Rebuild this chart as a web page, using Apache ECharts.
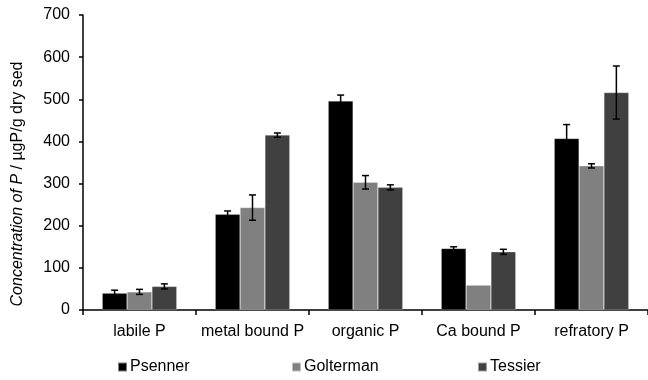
<!DOCTYPE html>
<html><head><meta charset="utf-8">
<script src="https://cdn.jsdelivr.net/npm/echarts@6/dist/echarts.min.js"></script>
<style>html,body{margin:0;padding:0;background:#fff}#c{width:648px;height:380px}</style>
</head><body><div id="c"></div>
<script>
const categories = ['labile P', 'metal bound P', 'organic P', 'Ca bound P', 'refratory P'];
const seriesNames = ['Psenner', 'Golterman', 'Tessier'];
const psenner = [40, 227, 496, 146, 407];
const golterman = [43, 243, 303, 59, 342];
const tessier = [56, 415, 291, 138, 516];
const psennerErr = [7, 8, 14, 4, 33];
const goltermanErr = [6, 30, 16, 0, 5];
const tessierErr = [6, 5, 6, 6, 63];
const yMin = 0, yMax = 700, yStep = 100;
const yTitleItalic = 'Concentration of P';
const yTitleRest = ' / µgP/g dry sed';

const colors = ['#000000', '#808080', '#404040'];
const FONT = '"Liberation Sans", Arial, sans-serif';
const GAP = 0.34;

const values = [psenner, golterman, tessier];
const errs = [psennerErr, goltermanErr, tessierErr];

const chart = echarts.init(document.getElementById('c'), null, {renderer: 'canvas'});

function barSeries(i) {
  return {
    type: 'bar', name: seriesNames[i], data: values[i],
    barGap: '0%', barCategoryGap: (GAP * 100) + '%',
    itemStyle: {color: colors[i], borderColor: 'rgba(255,255,255,0.5)', borderWidth: 0.5},
    emphasis: {disabled: true}, z: 2
  };
}
function errSeries(i) {
  return {
    type: 'custom', name: 'err' + i,
    data: categories.map((c, k) => [k, values[i][k], errs[i][k]]),
    encode: {x: 0, y: 1}, z: 5, silent: true,
    renderItem: function (params, api) {
      const cat = api.value(0), v = api.value(1), e = api.value(2);
      if (!e) return null;
      const band = api.size([1, 0])[0];
      const bw = band * (1 - GAP) / 3;
      const off = (i - 1) * bw;
      const top = api.coord([cat, v + e]);
      const bot = api.coord([cat, v - e]);
      const x = top[0] + off;
      const cw = 3.5;
      const st = {stroke: '#000', lineWidth: 1.5};
      return {type: 'group', children: [
        {type: 'line', shape: {x1: x, y1: top[1], x2: x, y2: bot[1]}, style: st},
        {type: 'line', shape: {x1: x - cw, y1: top[1], x2: x + cw, y2: top[1]}, style: st},
        {type: 'line', shape: {x1: x - cw, y1: bot[1], x2: x + cw, y2: bot[1]}, style: st}
      ]};
    }
  };
}

const legendLefts = [117, 291, 477];
const option = {
  animation: false,
  backgroundColor: '#fff',
  textStyle: {fontFamily: FONT},
  grid: {left: 83, top: 15, width: 567, height: 295, containLabel: false},
  xAxis: {
    type: 'category', data: categories,
    axisLine: {show: true, lineStyle: {color: '#000', width: 1.5}},
    axisTick: {show: true, inside: false, length: 5, alignWithLabel: false, lineStyle: {color: '#000', width: 1.5}},
    axisLabel: {color: '#000', fontSize: 16, margin: 14, fontFamily: FONT, interval: 0},
    splitLine: {show: false}
  },
  yAxis: {
    type: 'value', min: yMin, max: yMax, interval: yStep,
    axisLine: {show: true, lineStyle: {color: '#000', width: 1.5}},
    axisTick: {show: true, inside: false, length: 4, lineStyle: {color: '#000', width: 1.5}},
    axisLabel: {color: '#000', fontSize: 16, margin: 13, fontFamily: FONT},
    splitLine: {show: false}
  },
  legend: seriesNames.map((n, i) => ({
    data: [n], left: legendLefts[i], top: 359,
    icon: 'rect', itemWidth: 9, itemHeight: 9, itemGap: 3,
    padding: 0,
    textStyle: {color: '#000', fontSize: 16, fontFamily: FONT, padding: [0, 0, 0, -2]},
    selectedMode: false
  })),
  graphic: [{
    type: 'text', x: 18, y: 184, rotation: Math.PI / 2,
    style: {
      text: '{i|' + yTitleItalic + '}{n|' + yTitleRest + '}',
      align: 'center', verticalAlign: 'middle',
      rich: {
        i: {fontStyle: 'italic', fontSize: 16, fontFamily: FONT, fill: '#000'},
        n: {fontSize: 16, fontFamily: FONT, fill: '#000'}
      }
    }
  }],
  series: [barSeries(0), barSeries(1), barSeries(2), errSeries(0), errSeries(1), errSeries(2)]
};
chart.setOption(option);
</script>
</body></html>
